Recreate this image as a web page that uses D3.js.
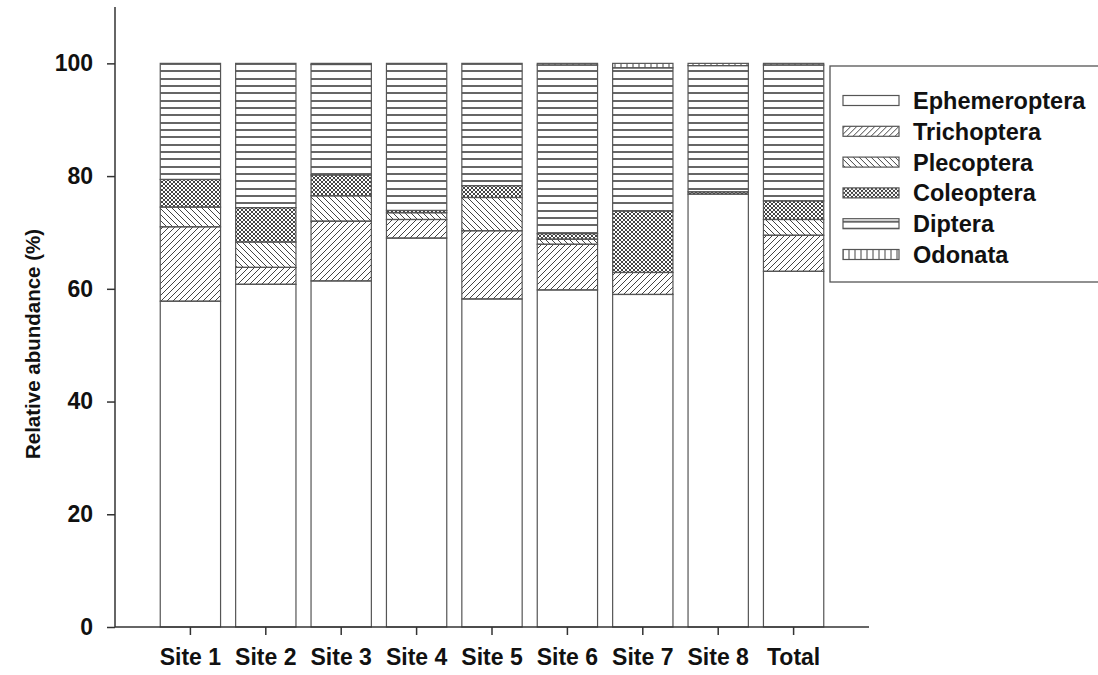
<!DOCTYPE html>
<html>
<head>
<meta charset="utf-8">
<script src="https://cdn.jsdelivr.net/npm/d3@7"></script>
<style>
  body { margin: 0; background: #fff; }
  svg text { font-family: "Liberation Sans", Arial, sans-serif; font-weight: bold; fill: #111; }
</style>
</head>
<body>
<div id="chart"></div>
<script>
// --- data ---
const sites = ["Site 1", "Site 2", "Site 3", "Site 4", "Site 5", "Site 6", "Site 7", "Site 8", "Total"];
const taxa = ["Ephemeroptera", "Trichoptera", "Plecoptera", "Coleoptera", "Diptera", "Odonata"];
const ephemeroptera = [57.8, 60.8, 61.4, 69.0, 58.2, 59.8, 59.0, 76.8, 63.1];
const trichoptera   = [13.2,  3.0, 10.6,  3.3, 12.1,  8.1,  3.9,  0.0,  6.4];
const plecoptera    = [ 3.5,  4.5,  4.5,  1.2,  5.9,  0.9,  0.0,  0.0,  2.8];
const coleoptera    = [ 4.9,  6.1,  3.7,  0.4,  2.1,  1.0, 10.9,  0.4,  3.3];
const diptera       = [20.6, 25.6, 19.6, 26.1, 21.7, 29.9, 25.4, 22.4, 24.1];
const odonata       = [ 0.0,  0.0,  0.2,  0.0,  0.0,  0.3,  0.8,  0.4,  0.3];
const yTicks = [0, 20, 40, 60, 80, 100];

const series = [ephemeroptera, trichoptera, plecoptera, coleoptera, diptera, odonata];
const rows = sites.map((s, i) => {
  const r = { site: s };
  taxa.forEach((t, j) => (r[t] = series[j][i]));
  return r;
});

const W = 1098, H = 675;
const svg = d3.select("#chart").append("svg").attr("width", W).attr("height", H);

// --- hatch patterns ---
const defs = svg.append("defs");
const ink = "#444";
function pat(id, w, h, draw, y0) {
  const p = defs.append("pattern").attr("id", id)
    .attr("patternUnits", "userSpaceOnUse")
    .attr("width", w).attr("height", h)
    .attr("y", y0 || 0);
  draw(p);
}
pat("p-tri", 6, 6, p => p.append("path")
  .attr("d", "M0,6 L6,0 M-1,1 L1,-1 M5,7 L7,5")
  .attr("stroke", ink).attr("stroke-width", 1));
pat("p-ple", 6, 6, p => p.append("path")
  .attr("d", "M0,0 L6,6 M-1,5 L1,7 M5,-1 L7,1")
  .attr("stroke", ink).attr("stroke-width", 1));
pat("p-col", 4, 4, p => p.append("path")
  .attr("d", "M0,0 L4,4 M0,4 L4,0")
  .attr("stroke", ink).attr("stroke-width", 1));
// horizontal lines ~7.3px apart, kept on whole pixels so they stay crisp
pat("p-dip", 10, 22, p => p.append("path")
  .attr("d", "M0,4H10M0,11H10M0,19H10")
  .attr("stroke", "#666").attr("stroke-width", 2), 60);
pat("p-odo", 6, 10, p => p.append("line")
  .attr("x1", 3).attr("x2", 3).attr("y1", 0).attr("y2", 10)
  .attr("stroke", ink).attr("stroke-width", 1));

const fills = {
  Ephemeroptera: "#fff",
  Trichoptera: "url(#p-tri)",
  Plecoptera: "url(#p-ple)",
  Coleoptera: "url(#p-col)",
  Diptera: "url(#p-dip)",
  Odonata: "url(#p-odo)"
};

// --- scales ---
const x = d3.scaleBand().domain(sites).range([115, 869])
  .paddingInner(0.2).paddingOuter(0.6);
const y = d3.scaleLinear().domain([0, 110]).range([627, 7]);

const stacked = d3.stack().keys(taxa)(rows);

svg.append("g")
  .selectAll("g")
  .data(stacked)
  .join("g")
  .attr("fill", d => fills[d.key])
  .selectAll("rect")
  .data(d => d)
  .join("rect")
  .attr("x", d => x(d.data.site))
  .attr("y", d => y(d[1]))
  .attr("width", x.bandwidth())
  .attr("height", d => y(d[0]) - y(d[1]))
  .attr("stroke", "#555")
  .attr("stroke-width", 1.2);

// --- axes ---
const yAxis = svg.append("g")
  .attr("transform", "translate(115,0)")
  .call(d3.axisLeft(y).tickValues(yTicks).tickSize(8).tickPadding(14));
const xAxis = svg.append("g")
  .attr("transform", "translate(0,627)")
  .call(d3.axisBottom(x).tickSize(8).tickPadding(14));

[yAxis, xAxis].forEach(a => {
  a.select(".domain").attr("stroke", "#333").attr("stroke-width", 1.5);
  a.selectAll(".tick line").attr("stroke", "#333").attr("stroke-width", 1.5);
  a.selectAll(".tick text").attr("font-size", 23).attr("fill", "#111")
    .style("font-family", '"Liberation Sans", Arial, sans-serif').style("font-weight", "bold");
});
// no outer ticks on the axes: extend the lines instead
yAxis.select(".domain").attr("d", `M0,${y(110)}V${y(0)}`);
xAxis.select(".domain").attr("d", `M115,0H869`);

svg.append("text")
  .attr("text-anchor", "middle")
  .attr("transform", "translate(40,344) rotate(-90)")
  .attr("font-size", 20.5)
  .text("Relative abundance (%)");

// --- legend ---
const legend = svg.append("g");
legend.append("rect")
  .attr("x", 830).attr("y", 66).attr("width", 290).attr("height", 216)
  .attr("fill", "#fff").attr("stroke", "#555").attr("stroke-width", 1.3);

const item = legend.selectAll("g.item")
  .data(taxa)
  .join("g")
  .attr("class", "item")
  .attr("transform", (d, i) => `translate(0,${100.5 + i * 30.8})`);
item.append("rect")
  .attr("x", 843).attr("y", -5).attr("width", 56).attr("height", 10)
  .attr("fill", d => fills[d]).attr("stroke", "#555").attr("stroke-width", 1.2);
item.append("text")
  .attr("x", 913).attr("y", 8.5)
  .attr("font-size", 23.5)
  .text(d => d);
</script>
</body>
</html>
